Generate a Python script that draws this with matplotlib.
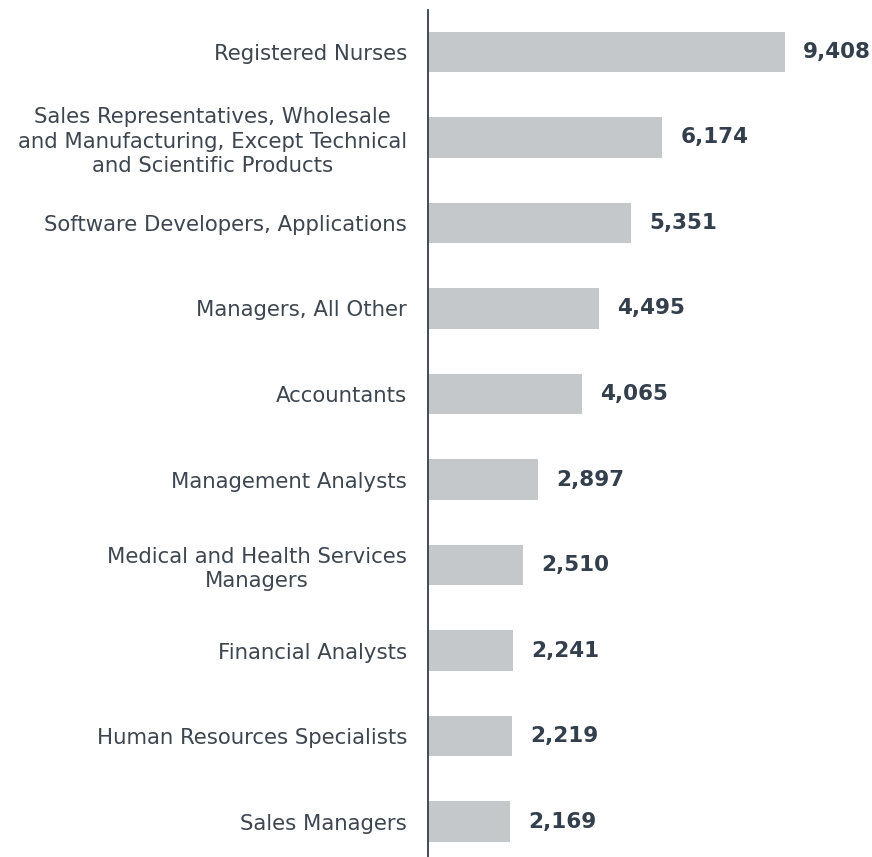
import matplotlib
matplotlib.use('Agg')
import matplotlib.pyplot as plt

# Данные
occupations = [
    'Registered Nurses',
    'Sales Representatives, Wholesale\nand Manufacturing, Except Technical\nand Scientific Products',
    'Software Developers, Applications',
    'Managers, All Other',
    'Accountants',
    'Management Analysts',
    'Medical and Health Services\nManagers',
    'Financial Analysts',
    'Human Resources Specialists',
    'Sales Managers',
]
counts = [9408, 6174, 5351, 4495, 4065, 2897, 2510, 2241, 2219, 2169]

bar_color = '#c5c8ca'
label_color = '#3d4650'
value_color = '#333f4c'

plt.rcParams['font.family'] = ['DejaVu Sans']

fig = plt.figure(figsize=(8.72, 8.57), dpi=100)
ax = fig.add_axes([428 / 872, 0, 444 / 872, 847 / 857])

positions = list(range(len(counts)))
ax.barh(positions, counts, height=0.47, color=bar_color)

# Подписи значений
for pos, val in zip(positions, counts):
    ax.annotate(f'{val:,}', xy=(val, pos), xytext=(13, 0), textcoords='offset points',
                ha='left', va='center', fontsize=15.5, fontweight='bold', color=value_color)

ax.set_yticks(positions)
ax.set_yticklabels(occupations, fontsize=15.3, color=label_color)
for lbl in ax.get_yticklabels():
    lbl.set_multialignment('center')
    lbl.set_linespacing(1.27)

ax.set_xlim(0, 11700)
ax.set_ylim(9.415, -0.491)
ax.set_xticks([])
ax.tick_params(axis='y', length=0, pad=15)

for side in ['top', 'right', 'bottom']:
    ax.spines[side].set_visible(False)
ax.spines['left'].set_color(value_color)
ax.spines['left'].set_linewidth(1.3)

fig.savefig('out.png', dpi=100)
